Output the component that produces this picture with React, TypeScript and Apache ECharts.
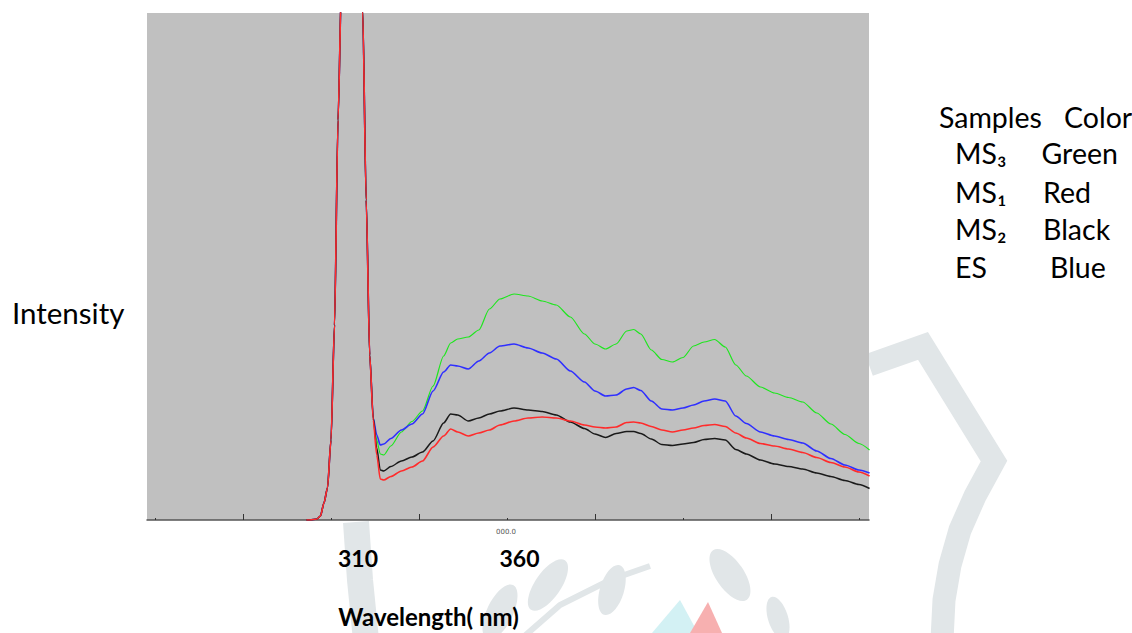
import React, { useEffect, useRef } from "react";
import * as echarts from "echarts";

// Wavelength (nm) sample positions
const wavelengths = [
  293, 294, 296, 297, 298, 299, 300, 301, 302, 303,
  305, 307, 309, 310, 311, 312, 313, 314, 315, 317,
  320, 323, 326, 329, 332, 334, 336, 339, 342, 345,
  348, 352, 356, 360, 364, 368, 372, 375, 378, 381,
  384, 386, 388, 391, 394, 397, 400, 403, 406, 409,
  412, 415, 418, 422, 426, 430, 434, 438, 442, 446,
  450, 453,
];

// Shared scatter peak (293..311 nm)
const peak = [0, 0, 2, 8, 34, 64, 160, 390, 800, 1080, 1400, 1500, 1020, 640, 330];

const ms3Green = [
  204, 160, 132, 130, 148,
  176, 197, 218, 268, 328, 354, 362, 366, 380, 422,
  442, 452, 448, 438, 430, 406, 372, 352, 342, 352,
  378, 381, 372, 340, 321, 316, 325, 348, 356, 361,
  346, 310, 288, 266, 254, 245, 236, 214, 192, 171,
  153, 140,
];
const esBlue = [
  204, 170, 150, 152, 163,
  180, 192, 212, 258, 296, 310, 308, 302, 318, 334,
  348, 352, 344, 334, 322, 298, 276, 258, 248, 250,
  262, 265, 259, 238, 222, 220, 224, 230, 238, 242,
  238, 208, 193, 176, 168, 161, 154, 138, 123, 110,
  100, 94,
];
const ms2Black = [
  204, 144, 100, 98, 107,
  118, 126, 136, 158, 194, 212, 210, 198, 204, 212,
  218, 224, 220, 217, 210, 196, 183, 172, 165, 173,
  177, 177, 173, 162, 151, 149, 152, 155, 161, 163,
  160, 141, 132, 120, 112, 107, 102, 94, 87, 79,
  71, 63,
];
const ms1Red = [
  200, 130, 82, 80, 87,
  98, 106, 118, 146, 168, 182, 176, 168, 174, 180,
  190, 198, 204, 206, 204, 198, 190, 186, 184, 186,
  195, 196, 194, 187, 180, 176, 180, 184, 189, 191,
  187, 174, 164, 153, 148, 142, 135, 125, 115, 106,
  96, 88,
];

const xMin = 247.73;
const xMax = 452.84;
const shortTicks = [250, 300, 350, 400, 450];
const longTicks = [275, 325, 375, 425];
const axisLabelsShown = ["310", "360"];

const legendRows = [
  { sample: "MS\u2083", color: "Green" },
  { sample: "MS\u2081", color: "Red" },
  { sample: "MS\u2082", color: "Black" },
  { sample: "ES", color: "Blue" },
];

function toPairs(vals: number[]) {
  const full = peak.concat(vals);
  return full.map((v, i) => [wavelengths[i], v]);
}

const FONT = "Lato, 'Open Sans', sans-serif";

export default function App() {
  const ref = useRef<HTMLDivElement>(null);

  useEffect(() => {
    if (!ref.current) return;
    const chart = echarts.init(ref.current, undefined, { renderer: "svg" });

    const wm = "#e1e6e8";
    const legendY = [153, 191.5, 228.5, 266.5];
    const legendColorX = [1041.5, 1043, 1043, 1050];

    const graphics: any[] = [
      // watermark (faint logo behind the figure)
      {
        type: "polyline",
        z: -10,
        shape: {
          points: [
            [869, 365], [923, 346], [994, 461], [975, 496], [960, 530],
            [950, 565], [944, 600], [942, 640],
          ],
        },
        style: { stroke: wm, lineWidth: 23, fill: "none", lineJoin: "miter" },
        silent: true,
      },
      {
        type: "polyline",
        z: -10,
        shape: { points: [[356, 522], [360, 580], [366, 640]] },
        style: { stroke: wm, lineWidth: 26, fill: "none" },
        silent: true,
      },
      {
        type: "polyline",
        z: -10,
        shape: { points: [[520, 640], [560, 605], [610, 580], [650, 566]] },
        style: { stroke: wm, lineWidth: 6, fill: "none" },
        silent: true,
      },
      { type: "ellipse", z: -10, x: 500, y: 612, rotation: -0.45, shape: { cx: 0, cy: 0, rx: 13, ry: 30 }, style: { fill: wm }, silent: true },
      { type: "ellipse", z: -10, x: 548, y: 585, rotation: -0.6, shape: { cx: 0, cy: 0, rx: 13, ry: 30 }, style: { fill: wm }, silent: true },
      { type: "ellipse", z: -10, x: 612, y: 590, rotation: -0.3, shape: { cx: 0, cy: 0, rx: 12, ry: 26 }, style: { fill: wm }, silent: true },
      { type: "ellipse", z: -10, x: 730, y: 575, rotation: 0.6, shape: { cx: 0, cy: 0, rx: 14, ry: 30 }, style: { fill: wm }, silent: true },
      { type: "ellipse", z: -10, x: 778, y: 618, rotation: 0.3, shape: { cx: 0, cy: 0, rx: 10, ry: 22 }, style: { fill: wm }, silent: true },
      {
        type: "polygon", z: -10,
        shape: { points: [[652, 633], [680, 600], [698, 633]] },
        style: { fill: "#d3f1f4" }, silent: true,
      },
      {
        type: "polygon", z: -10,
        shape: { points: [[690, 633], [708, 602], [722, 633]] },
        style: { fill: "#f7b0b0" }, silent: true,
      },
      // axis titles
      {
        type: "text",
        x: 12, y: 312,
        style: { text: "Intensity", fontSize: 29.5, fontFamily: FONT, fill: "#000", align: "left", verticalAlign: "middle" },
      },
      {
        type: "text",
        x: 428.5, y: 616.5,
        style: { text: "Wavelength( nm)", fontSize: 24, fontWeight: "bold", fontFamily: FONT, fill: "#000", align: "center", verticalAlign: "middle" },
      },
      {
        type: "text",
        x: 358, y: 557.5,
        style: { text: axisLabelsShown[0], fontSize: 23, fontWeight: "bold", fontFamily: FONT, fill: "#000", align: "center", verticalAlign: "middle" },
      },
      {
        type: "text",
        x: 519.5, y: 557.5,
        style: { text: axisLabelsShown[1], fontSize: 23, fontWeight: "bold", fontFamily: FONT, fill: "#000", align: "center", verticalAlign: "middle" },
      },
      {
        type: "text",
        x: 506, y: 532,
        style: { text: "000.0", fontSize: 7, fontFamily: "'DejaVu Sans', sans-serif", fill: "#555", align: "center", verticalAlign: "middle" },
      },
      // legend table
      {
        type: "text",
        x: 939, y: 116.5,
        style: { text: "Samples", fontSize: 28.5, fontFamily: FONT, fill: "#000", align: "left", verticalAlign: "middle" },
      },
      {
        type: "text",
        x: 1064, y: 116.5,
        style: { text: "Color", fontSize: 28.5, fontFamily: FONT, fill: "#000", align: "left", verticalAlign: "middle" },
      },
    ];

    legendRows.forEach((r, i) => {
      graphics.push({
        type: "text",
        x: 955, y: legendY[i],
        style: { text: r.sample, fontSize: 28.5, fontFamily: FONT, fill: "#000", align: "left", verticalAlign: "middle" },
      });
      graphics.push({
        type: "text",
        x: legendColorX[i], y: legendY[i],
        style: { text: r.color, fontSize: 28.5, fontFamily: FONT, fill: "#000", align: "left", verticalAlign: "middle" },
      });
    });

    const mkSeries = (name: string, vals: number[], color: string, width: number) => ({
      name,
      type: "line",
      data: toPairs(vals),
      showSymbol: false,
      symbol: "none",
      clip: true,
      smooth: 0.25,
      smoothMonotone: "x",
      lineStyle: { color, width },
      itemStyle: { color },
      xAxisIndex: 0,
      yAxisIndex: 0,
    });

    chart.setOption({
      animation: false,
      backgroundColor: "#ffffff",
      grid: {
        left: 147,
        top: 13,
        width: 722,
        height: 507,
        show: true,
        backgroundColor: "#c0c0c0",
        borderWidth: 0,
        containLabel: false,
      },
      xAxis: [
        {
          type: "value",
          min: xMin,
          max: xMax,
          position: "bottom",
          axisLine: { show: true, onZero: false, lineStyle: { color: "#555555", width: 1.5 } },
          axisTick: { show: true, inside: true, length: 2, customValues: shortTicks, lineStyle: { color: "#333333", width: 1 } },
          axisLabel: { show: false },
          splitLine: { show: false },
        },
        {
          type: "value",
          min: xMin,
          max: xMax,
          position: "bottom",
          offset: 0,
          axisLine: { show: false },
          axisTick: { show: true, inside: true, length: 6, customValues: longTicks, lineStyle: { color: "#333333", width: 1 } },
          axisLabel: { show: false },
          splitLine: { show: false },
        },
      ],
      yAxis: {
        type: "value",
        min: 0,
        max: 1014,
        show: false,
        splitLine: { show: false },
      },
      series: [
        mkSeries("MS3", ms3Green, "#1ee61e", 1.2),
        mkSeries("ES", esBlue, "#2f2fff", 1.6),
        mkSeries("MS2", ms2Black, "#1a1a1a", 1.5),
        mkSeries("MS1", ms1Red, "#ff2b2b", 1.6),
      ],
      graphic: graphics,
    });

    return () => chart.dispose();
  }, []);

  return (
    <div
      ref={ref}
      style={{ position: "absolute", left: 0, top: 0, width: 1132, height: 633 }}
    />
  );
}
